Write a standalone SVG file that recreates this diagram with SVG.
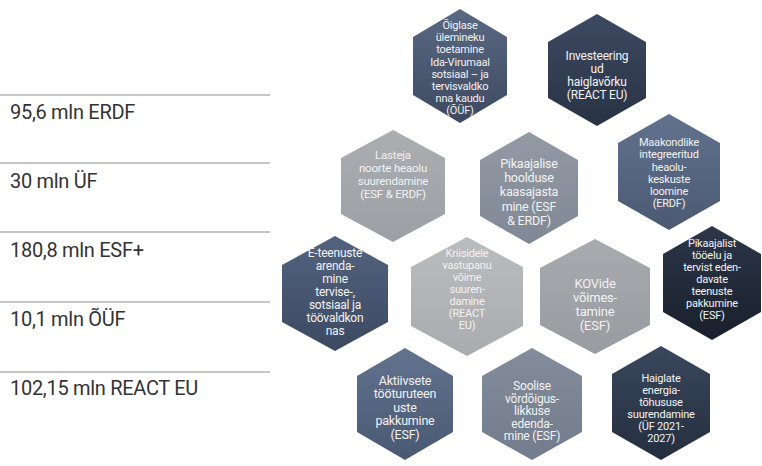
<svg xmlns="http://www.w3.org/2000/svg" width="762" height="466" viewBox="0 0 762 466">
<defs>
<linearGradient id="gA" x1="0" y1="0" x2="0" y2="1"><stop offset="0" stop-color="#5a6983"/><stop offset="1" stop-color="#3d4960"/></linearGradient>
<linearGradient id="gB" x1="0" y1="0" x2="0" y2="1"><stop offset="0" stop-color="#3e4a62"/><stop offset="1" stop-color="#283244"/></linearGradient>
<linearGradient id="gC" x1="0" y1="0" x2="0" y2="1"><stop offset="0" stop-color="#abadb1"/><stop offset="1" stop-color="#9c9fa4"/></linearGradient>
<linearGradient id="gD" x1="0" y1="0" x2="0" y2="1"><stop offset="0" stop-color="#939aa5"/><stop offset="1" stop-color="#808895"/></linearGradient>
<linearGradient id="gE" x1="0" y1="0" x2="0" y2="1"><stop offset="0" stop-color="#62728e"/><stop offset="1" stop-color="#4b5972"/></linearGradient>
<linearGradient id="gF" x1="0" y1="0" x2="0" y2="1"><stop offset="0" stop-color="#53637f"/><stop offset="1" stop-color="#3c4961"/></linearGradient>
<linearGradient id="gG" x1="0" y1="0" x2="0" y2="1"><stop offset="0" stop-color="#bbbcbe"/><stop offset="1" stop-color="#a9abae"/></linearGradient>
<linearGradient id="gH" x1="0" y1="0" x2="0" y2="1"><stop offset="0" stop-color="#a8aaae"/><stop offset="1" stop-color="#989ba0"/></linearGradient>
<linearGradient id="gI" x1="0" y1="0" x2="0" y2="1"><stop offset="0" stop-color="#2c3648"/><stop offset="1" stop-color="#19202c"/></linearGradient>
<linearGradient id="gJ" x1="0" y1="0" x2="0" y2="1"><stop offset="0" stop-color="#62738f"/><stop offset="1" stop-color="#4a5872"/></linearGradient>
<linearGradient id="gK" x1="0" y1="0" x2="0" y2="1"><stop offset="0" stop-color="#838c9b"/><stop offset="1" stop-color="#737c8c"/></linearGradient>
<linearGradient id="gL" x1="0" y1="0" x2="0" y2="1"><stop offset="0" stop-color="#3a475d"/><stop offset="1" stop-color="#242e3e"/></linearGradient>
</defs>
<style>
.amt{font-family:Roboto,"Liberation Sans",sans-serif;font-size:20px;fill:#333;letter-spacing:-0.3px}
.sep{stroke:#8c8c8c;stroke-width:1}
.ht{font-family:Roboto,"Liberation Sans",sans-serif;fill:#f2f2f2;text-anchor:middle;letter-spacing:-0.2px}
</style>
<rect width="762" height="466" fill="#ffffff"/>
<g id="amounts">
<line class="sep" x1="0" y1="95" x2="270" y2="95"/>
<line class="sep" x1="0" y1="163" x2="270" y2="163"/>
<line class="sep" x1="0" y1="232" x2="270" y2="232"/>
<line class="sep" x1="0" y1="302" x2="270" y2="302"/>
<line class="sep" x1="0" y1="372" x2="270" y2="372"/>
<text class="amt" x="10" y="119">95,6 mln ERDF</text>
<text class="amt" x="10" y="188">30 mln ÜF</text>
<text class="amt" x="10" y="257">180,8 mln ESF+</text>
<text class="amt" x="10" y="326">10,1 mln ÕÜF</text>
<text class="amt" x="10" y="395">102,15 mln REACT EU</text>
</g>
<g id="connectors"></g>
<g id="hex1">
<polygon points="460,9 507,37 507,95 460,123 413,95 413,37" fill="url(#gA)"/>
<text class="ht" font-size="11"><tspan x="460" y="29">Õiglase</tspan><tspan x="460" y="41">ülemineku</tspan><tspan x="460" y="53">toetamine</tspan><tspan x="460" y="65.5">Ida-Virumaal</tspan><tspan x="460" y="77.5">sotsiaal – ja</tspan><tspan x="460" y="89.5">tervisvaldko</tspan><tspan x="460" y="101.5">nna kaudu</tspan><tspan x="460" y="114">(ÕÜF)</tspan></text>
</g>
<g id="hex2">
<polygon points="597,14 646,42 646,98 597,126 548,98 548,42" fill="url(#gB)"/>
<text class="ht" font-size="12"><tspan x="597" y="60">Investeering</tspan><tspan x="597" y="73">ud</tspan><tspan x="597" y="86">haiglavõrku</tspan><tspan x="597" y="99">(REACT EU)</tspan></text>
</g>
<g id="hex3">
<polygon points="393,130 445,158 445,214 393,242 341,214 341,158" fill="url(#gC)"/>
<text class="ht" font-size="11.5"><tspan x="393" y="159">Lasteja</tspan><tspan x="393" y="172">noorte heaolu</tspan><tspan x="393" y="185">suurendamine</tspan><tspan x="393" y="198">(ESF &amp; ERDF)</tspan></text>
</g>
<g id="hex4">
<polygon points="529,132 578,160 578,216 529,244 480,216 480,160" fill="url(#gD)"/>
<text class="ht" font-size="12.5"><tspan x="529" y="168">Pikaajalise</tspan><tspan x="529" y="182">hoolduse</tspan><tspan x="529" y="196">kaasajasta</tspan><tspan x="529" y="210.5">mine (ESF</tspan><tspan x="529" y="225">&amp; ERDF)</tspan></text>
</g>
<g id="hex5">
<polygon points="669,114 720,143 720,201 669,230 618,201 618,143" fill="url(#gE)"/>
<text class="ht" font-size="11"><tspan x="669" y="146">Maakondlike</tspan><tspan x="669" y="158">integreeritud</tspan><tspan x="669" y="170.5">heaolu-</tspan><tspan x="669" y="182.5">keskuste</tspan><tspan x="669" y="194.5">loomine</tspan><tspan x="669" y="207">(ERDF)</tspan></text>
</g>
<g id="hex6">
<polygon points="335,236 388,265 388,322 335,351 282,322 282,265" fill="url(#gF)"/>
<text class="ht" font-size="12"><tspan x="335" y="257">E-teenuste</tspan><tspan x="335" y="270">arenda-</tspan><tspan x="335" y="283">mine</tspan><tspan x="335" y="296">tervise-,</tspan><tspan x="335" y="309">sotsiaal ja</tspan><tspan x="335" y="322">töövaldkon</tspan><tspan x="335" y="335">nas</tspan></text>
</g>
<g id="hex7">
<polygon points="467,237 523,267 523,326 467,356 411,326 411,267" fill="url(#gG)"/>
<text class="ht" font-size="11"><tspan x="467" y="257">Kriisidele</tspan><tspan x="467" y="269">vastupanu</tspan><tspan x="467" y="281">võime</tspan><tspan x="467" y="293">suuren-</tspan><tspan x="467" y="305">damine</tspan><tspan x="467" y="317">(REACT</tspan><tspan x="467" y="329">EU)</tspan></text>
</g>
<g id="hex8">
<polygon points="595,239 650,268 650,325 595,354 540,325 540,268" fill="url(#gH)"/>
<text class="ht" font-size="13"><tspan x="595" y="288">KOVide</tspan><tspan x="595" y="302">võimes-</tspan><tspan x="595" y="316">tamine</tspan><tspan x="595" y="330">(ESF)</tspan></text>
</g>
<g id="hex9">
<polygon points="712,226 761,254 761,312 712,340 663,312 663,254" fill="url(#gI)"/>
<text class="ht" font-size="11"><tspan x="712" y="247">Pikaajalist</tspan><tspan x="712" y="259">tööelu ja</tspan><tspan x="712" y="271">tervist eden-</tspan><tspan x="712" y="283">davate</tspan><tspan x="712" y="295">teenuste</tspan><tspan x="712" y="307">pakkumine</tspan><tspan x="712" y="319">(ESF)</tspan></text>
</g>
<g id="hex10">
<polygon points="405,348 453,376 453,432 405,460 357,432 357,376" fill="url(#gJ)"/>
<text class="ht" font-size="12.5"><tspan x="405" y="384.5">Aktiivsete</tspan><tspan x="405" y="398">tööturuteen</tspan><tspan x="405" y="411.5">uste</tspan><tspan x="405" y="425">pakkumine</tspan><tspan x="405" y="438.5">(ESF)</tspan></text>
</g>
<g id="hex11">
<polygon points="532,348 582,376 582,432 532,460 482,432 482,376" fill="url(#gK)"/>
<text class="ht" font-size="12"><tspan x="532" y="390">Soolise</tspan><tspan x="532" y="402.5">võrdõigus-</tspan><tspan x="532" y="415">likkuse</tspan><tspan x="532" y="427.5">edenda-</tspan><tspan x="532" y="440">mine (ESF)</tspan></text>
</g>
<g id="hex12">
<polygon points="661,346 710,374 710,432 661,460 612,432 612,374" fill="url(#gL)"/>
<text class="ht" font-size="11"><tspan x="661" y="382">Haiglate</tspan><tspan x="661" y="394">energia-</tspan><tspan x="661" y="406">tõhususe</tspan><tspan x="661" y="418">suurendamine</tspan><tspan x="661" y="430">(ÜF 2021-</tspan><tspan x="661" y="442">2027)</tspan></text>
</g>
</svg>
